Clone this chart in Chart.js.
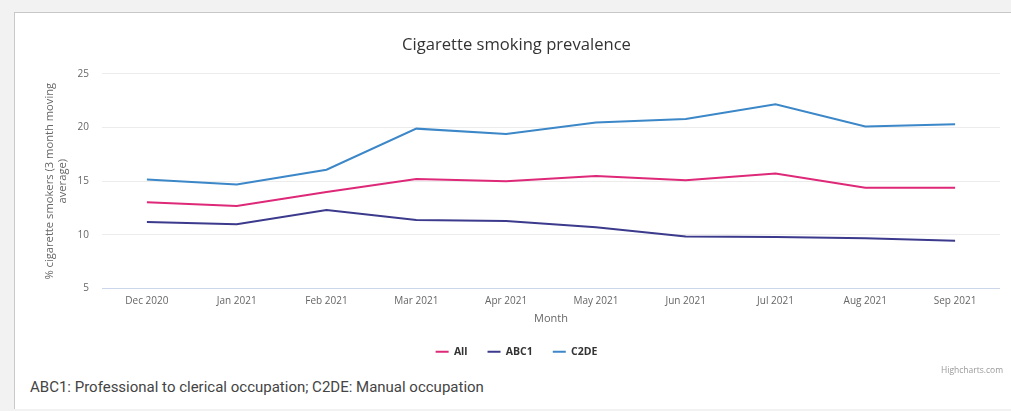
<!DOCTYPE html>
<html>
<head>
<meta charset="utf-8">
<script src="https://cdn.jsdelivr.net/npm/chart.js@4/dist/chart.umd.min.js"></script>
<style>
  html, body { margin: 0; padding: 0; background: #f2f2f2; width: 1011px; height: 411px; overflow: hidden; }
  #panel {
    position: absolute; left: 14px; top: 12px; width: 1000px; height: 396px;
    background: #fff; border-top: 1px solid #c8c8c8; border-left: 1px solid #c8c8c8;
  }
  #wrap { position: absolute; left: 0; top: 0; width: 985px; height: 354px; }
  #credit {
    position: absolute; left: 926px; top: 351px; font: 8.5px "Open Sans", sans-serif; color: #999;
  }
  #note {
    position: absolute; left: 15px; top: 365px; font: 15px Roboto, sans-serif; color: #444;
  }
</style>
</head>
<body>
<div id="panel">
  <div id="wrap"><canvas id="chart"></canvas></div>
  <div id="credit">Highcharts.com</div>
  <div id="note">ABC1: Professional to clerical occupation; C2DE: Manual occupation</div>
</div>
<script>
// Month categories
const months = ["Dec 2020", "Jan 2021", "Feb 2021", "Mar 2021", "Apr 2021",
                "May 2021", "Jun 2021", "Jul 2021", "Aug 2021", "Sep 2021"];

// % cigarette smokers (3 month moving average)
const allValues  = [13.05, 12.7, 14.0, 15.2, 15.0, 15.48, 15.1, 15.72, 14.38, 14.38];
const abc1Values = [11.2, 11.0, 12.32, 11.38, 11.3, 10.7, 9.85, 9.8, 9.68, 9.45];
const c2deValues = [15.17, 14.7, 16.07, 19.9, 19.4, 20.48, 20.8, 22.18, 20.1, 20.3];

const yTicks = [5, 10, 15, 20, 25];

const baseFont = "'Open Sans', sans-serif";

function series(label, data, color) {
    return {
        label: label,
        data: data,
        borderColor: color,
        backgroundColor: color,
        borderWidth: 2,
        pointRadius: 0,
        pointHoverRadius: 0,
        tension: 0,
        fill: false,
    };
}

new Chart(document.getElementById("chart"), {
    type: "line",
    data: {
        labels: months,
        datasets: [
            series("All", allValues, "#de2878"),
            series("ABC1", abc1Values, "#3c3a8c"),
            series("C2DE", c2deValues, "#3b87c8"),
        ],
    },
    options: {
        responsive: true,
        maintainAspectRatio: false,
        animation: false,
        layout: { padding: { left: 18, right: 0, top: 0, bottom: 0 } },
        plugins: {
            title: {
                display: true,
                text: "Cigarette smoking prevalence",
                color: "#333",
                font: { family: baseFont, size: 16.6, weight: "normal" },
                padding: { top: 22, bottom: 19 },
            },
            legend: {
                position: "bottom",
                labels: {
                    usePointStyle: true,
                    pointStyle: "line",
                    pointStyleWidth: 13,
                    boxWidth: 13,
                    boxHeight: 10,
                    padding: 20,
                    color: "#333",
                    font: { family: baseFont, size: 10.5, weight: "bold" },
                },
            },
            tooltip: { enabled: false },
        },
        scales: {
            x: {
                offset: true,
                grid: { display: false, drawTicks: false },
                border: { display: true, color: "#ccd6eb", width: 1 },
                ticks: {
                    color: "#666",
                    padding: 7,
                    maxRotation: 0,
                    autoSkip: false,
                    font: { family: baseFont, size: 10 },
                },
                title: {
                    display: true,
                    text: "Month",
                    color: "#666",
                    font: { family: baseFont, size: 11 },
                    padding: { top: 2, bottom: 1 },
                },
                afterFit: (scale) => { scale.height = 38; },
            },
            y: {
                min: 5,
                max: 25,
                afterBuildTicks: (scale) => {
                    scale.ticks = yTicks.map((v) => ({ value: v }));
                },
                grid: {
                    color: (ctx) => (ctx.tick && ctx.tick.value === 5 ? "#ccd6eb" : "#ececec"),
                    drawTicks: false,
                },
                border: { display: false },
                ticks: {
                    color: "#666",
                    padding: 13,
                    font: { family: baseFont, size: 10 },
                },
                title: {
                    display: true,
                    text: ["% cigarette smokers (3 month moving", "average)"],
                    color: "#666",
                    font: { family: baseFont, size: 11.2 },
                    padding: { top: 10, bottom: 0 },
                },
                afterFit: (scale) => { scale.width = 69; },
            },
        },
    },
});
</script>
</body>
</html>
